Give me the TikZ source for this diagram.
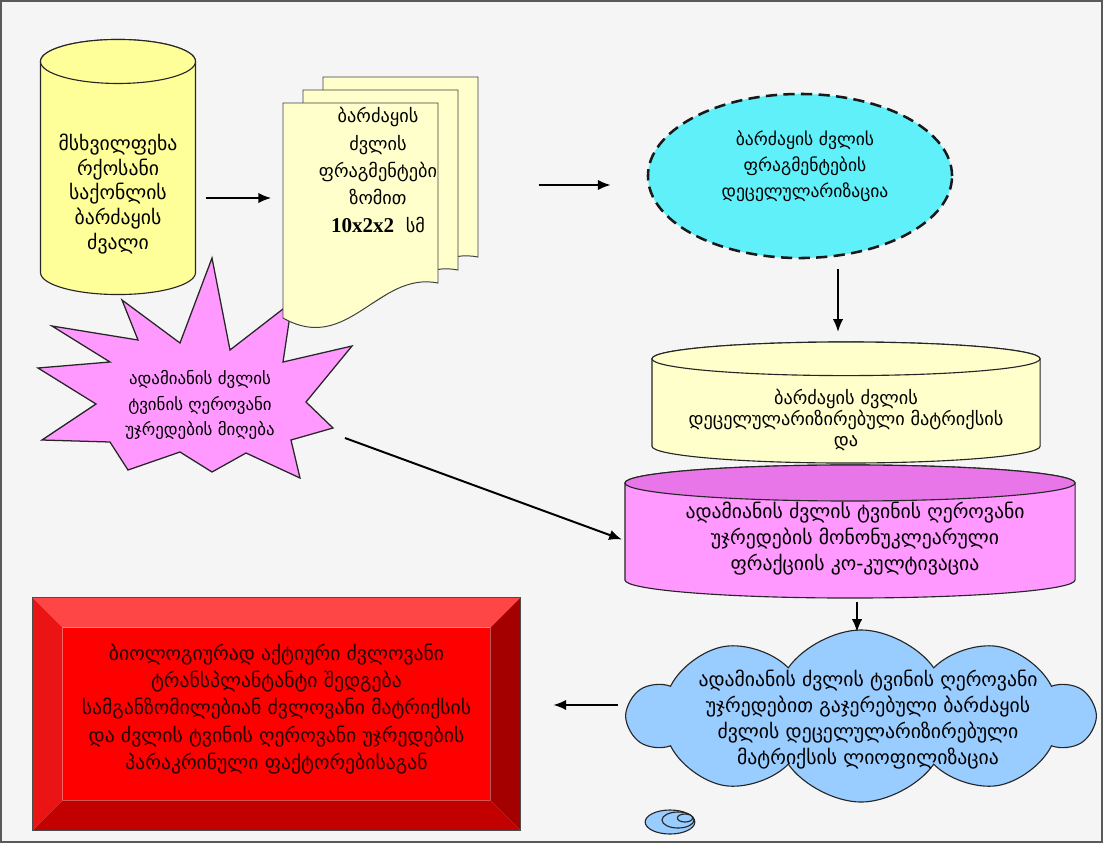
\documentclass[tikz,border=0pt]{standalone}
\usepackage{fontspec}
\setmainfont{DejaVu Sans}
\newfontfamily\digitfont{Liberation Serif}
\usetikzlibrary{arrows.meta,positioning,calc,shapes.geometric,shapes.symbols}
\definecolor{bgray}{RGB}{245,245,245}
\definecolor{paleyel}{RGB}{255,255,153}
\definecolor{creamyel}{RGB}{255,255,204}
\definecolor{decelcyan}{RGB}{95,240,250}
\definecolor{stempink}{RGB}{255,153,255}
\definecolor{culttop}{RGB}{232,118,232}
\definecolor{lyoblue}{RGB}{153,204,255}
\definecolor{graftred}{RGB}{255,0,0}
\definecolor{bevtop}{RGB}{255,70,70}
\definecolor{bevleft}{RGB}{235,20,20}
\definecolor{bevright}{RGB}{165,0,0}
\definecolor{bevbot}{RGB}{195,0,0}
\tikzset{
  flowarr/.style={-{Latex[length=3.2mm,width=2.6mm]}, black, line width=1.4pt},
  txt/.style={font=\fontsize{14}{18.5}\selectfont, align=center, text=black},
  cylbox/.style={inner sep=0pt, outer sep=0pt},
  cylline/.style={draw=black!85, line width=0.8pt},
  page/.style={draw=black!75, fill=creamyel, line width=0.7pt},
  burstline/.style={draw=black!85, line width=0.9pt, fill=stempink, line join=miter},
  puff/.style={cloud, cloud puffs=10, cloud puff arc=110, aspect=2.6, draw=black!85,
               line width=0.8pt, fill=lyoblue, minimum width=11.6cm, minimum height=4.3cm, txt},
}
% upright cylinder drawn round an empty box node
\newcommand{\cylpath}[4]{%
  \path[cylline, fill=#3] let \p1=(#1.north west), \p2=(#1.south east), \n1={(\x2-\x1)/2} in
    (\x1,\y1-#2) -- (\x1,\y2+#2) arc[start angle=180, end angle=360, x radius=\n1, y radius=#2]
    -- (\x2,\y1-#2) arc[start angle=0, end angle=180, x radius=\n1, y radius=#2] -- cycle;
  \path[cylline, fill=#4] let \p1=(#1.north west), \p2=(#1.south east), \n1={(\x2-\x1)/2} in
    ({(\x1+\x2)/2},\y1-#2) ellipse [x radius=\n1, y radius=#2];}
\newcommand{\docpage}[2]{\draw[page] (#1,#2) -- ({#1+155},#2) -- ({#1+155},{#2+180})
  .. controls ({#1+95},{#2+168}) and ({#1+65},{#2+252}) .. (#1,{#2+215}) -- cycle;}

\begin{document}
\begin{tikzpicture}[x=0.025cm, y=-0.025cm]
  \useasboundingbox (0,0) rectangle (1103,843);
  \fill[bgray] (0,0) rectangle (1103,843);
  \draw[black!65, line width=0.8pt] (1,1) rectangle (1102,842);

  % stem cells (behind the bone)
  \coordinate (stem) at (195,370);
  \draw[burstline] (122,300) \foreach \a/\b in {180/343, 212/258, 230/350, 292/302, 283/362,
      352/346, 306/402, 333/428, 291/440, 300/478, 246/453, 212/472, 180/452, 128/470,
      110/442, 42/440, 96/404, 38/368, 110/362, 52/326, 138/340} { -- (\a,\b) } -- cycle;
  \node[txt, font=\fontsize{12}{18}\selectfont] (stemlbl) at (200,405)
    {ადამიანის ძვლის\\ტვინის ღეროვანი\\უჯრედების მიღება};

  % raw bone
  \node[cylbox, minimum width=3.875cm, minimum height=6.375cm] (bone) at (118,167) {};
  \cylpath{bone}{0.55cm}{paleyel}{paleyel}
  \node[txt, font=\fontsize{14}{17.5}\selectfont] (bonelbl) at (118,194)
    {მსხვილფეხა\\რქოსანი\\საქონლის\\ბარძაყის\\ძვალი};

  % fragments
  \docpage{323}{77}
  \docpage{303}{90}
  \docpage{283}{103}
  \node[txt, minimum width=4.875cm, font=\fontsize{13}{19.5}\selectfont] (frag) at (378,170)
    {ბარძაყის\\ძვლის\\ფრაგმენტები\\ზომით\\{\digitfont\bfseries\fontsize{15}{19.5}\selectfont 10x2x2}~~სმ};

  % decellularization
  \node[ellipse, draw=black!90, line width=1.8pt, dash pattern=on 8pt off 4.5pt,
        fill=decelcyan, minimum width=7.6cm, minimum height=4.1cm] (decel) at (800,176) {};
  \node[txt, font=\fontsize{12.5}{18.5}\selectfont] (decellbl) at (805,166)
    {ბარძაყის ძვლის\\ფრაგმენტების\\დეცელულარიზაცია};

  % matrix and co-culture
  \node[cylbox, minimum width=9.7cm, minimum height=3.025cm] (matrix) at (846,402.5) {};
  \cylpath{matrix}{0.42cm}{creamyel}{creamyel}
  \node[txt, font=\fontsize{13}{15}\selectfont] (matrixlbl) at (846,420)
    {ბარძაყის ძვლის\\დეცელულარიზირებული მატრიქსის\\და};
  \node[cylbox, minimum width=11.25cm, minimum height=3.325cm] (cocult) at (850,531.5) {};
  \cylpath{cocult}{0.45cm}{stempink}{culttop}
  \node[txt] (cocultlbl) at (855,539)
    {ადამიანის ძვლის ტვინის ღეროვანი\\უჯრედების მონონუკლეარული\\ფრაქციის კო-კულტივაცია};

  % lyophilization
  \node[puff] (lyoph) at (861,716) {};
  \node[txt] (lyophlbl) at (868,720)
    {ადამიანის ძვლის ტვინის ღეროვანი\\უჯრედებით გაჯერებული ბარძაყის\\ძვლის დეცელულარიზირებული\\მატრიქსის ლიოფილიზაცია};
  \draw[cylline, fill=lyoblue] (670,822) ellipse [x radius=0.62cm, y radius=0.3cm];
  \draw[cylline, fill=lyoblue] (678,820) ellipse [x radius=0.4cm, y radius=0.2cm];
  \draw[cylline, fill=lyoblue] (685,818) ellipse [x radius=0.19cm, y radius=0.1cm];

  % graft
  \node[fill=graftred, minimum width=10.675cm, minimum height=4.3cm, txt] (graft) at (276.5,714) {};
  \fill[bevtop] (graft.north west) -- ++(-30,-30) -- ($(graft.north east)+(30,-30)$) -- (graft.north east) -- cycle;
  \fill[bevright] (graft.north east) -- ++(30,-30) -- ($(graft.south east)+(30,30)$) -- (graft.south east) -- cycle;
  \fill[bevbot] (graft.south east) -- ++(30,30) -- ($(graft.south west)+(-30,30)$) -- (graft.south west) -- cycle;
  \fill[bevleft] (graft.south west) -- ++(-30,30) -- ($(graft.north west)+(-30,-30)$) -- (graft.north west) -- cycle;
  \draw[black!70, line width=0.5pt] ($(graft.north west)+(-30,-30)$) rectangle ($(graft.south east)+(30,30)$);
  \node[txt, text=black!85!red, font=\fontsize{14}{19.5}\selectfont] (graftlbl) at (276.5,709)
    {ბიოლოგიურად აქტიური ძვლოვანი\\ტრანსპლანტანტი შედგება\\სამგანზომილებიან ძვლოვანი მატრიქსის\\და ძვლის ტვინის ღეროვანი უჯრედების\\პარაკრინული ფაქტორებისაგან};

  % arrows
  \draw[flowarr] ($(bone.east)+(10,31)$) -- ($(frag.west)+(-9,28)$);
  \draw[flowarr] ($(decel.west)+(-108,9)$) -- ($(decel.west)+(-36,9)$);
  \draw[flowarr] ($(decel.south)+(38,10)$) -- ($(matrix.north)+(-8,-10)$);
  \draw[flowarr] ($(stem)+(150,68)$) -- ($(cocult.west)+(-3,8)$);
  \draw[flowarr] ($(cocult.south)+(7,4)$) -- ($(cocult.south)+(7,34)$);
  \draw[flowarr] ($(lyoph.west)+(-7,-11)$) -- ($(lyoph.west -| graft.east)+(63,-11)$);
\end{tikzpicture}
\end{document}
